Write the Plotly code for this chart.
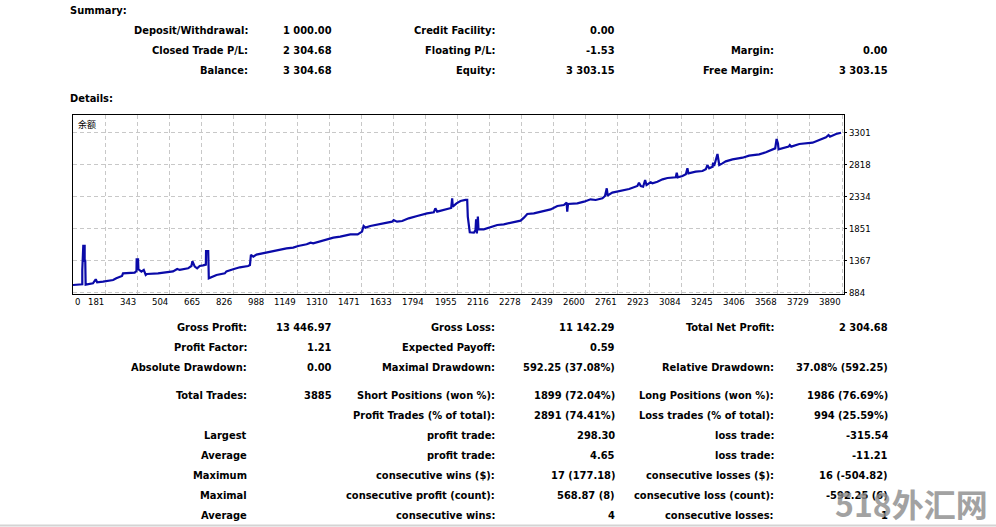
import plotly.graph_objects as go
import numpy as np

# ---------------- data ----------------
trade_no = [
    0, 47, 47, 52, 59, 59, 62, 64, 101, 115,
    122, 152, 203, 219, 248, 253, 270, 312, 321, 322,
    329, 331, 346, 358, 368, 375, 430, 473, 506, 527,
    540, 582, 599, 604, 616, 628, 641, 658, 672, 673,
    684, 687, 709, 726, 768, 776, 810, 844, 886, 895,
    900, 912, 928, 962, 979, 1013, 1047, 1080, 1114, 1139,
    1182, 1202, 1215, 1263, 1283, 1317, 1352, 1403, 1440, 1462,
    1470, 1479, 1504, 1555, 1614, 1622, 1639, 1665, 1698, 1741,
    1791, 1825, 1833, 1842, 1884, 1913, 1918, 1921, 1940, 1960,
    1985, 1994, 1997, 2007, 2028, 2036, 2039, 2043, 2048, 2051,
    2078, 2112, 2146, 2179, 2213, 2264, 2281, 2298, 2331, 2365,
    2416, 2450, 2483, 2497, 2500, 2504, 2551, 2585, 2618, 2644,
    2678, 2691, 2700, 2705, 2708, 2728, 2762, 2813, 2855, 2863,
    2872, 2884, 2894, 2901, 2922, 2931, 2956, 2982, 3007, 3049,
    3054, 3059, 3083, 3100, 3108, 3113, 3150, 3184, 3201, 3209,
    3218, 3235, 3238, 3243, 3260, 3269, 3285, 3302, 3336, 3387,
    3420, 3471, 3505, 3539, 3552, 3559, 3566, 3569, 3589, 3620,
    3626, 3633, 3674, 3707, 3741, 3775, 3809, 3822, 3829, 3860,
    3885,
]
balance = [
    1000, 1011, 1228, 1591, 1591, 1364, 1364, 1006, 1026, 1086,
    1041, 1051, 1076, 1102, 1137, 1177, 1177, 1187, 1213, 1389,
    1389, 1238, 1202, 1228, 1152, 1167, 1177, 1197, 1207, 1243,
    1228, 1253, 1288, 1359, 1278, 1253, 1288, 1298, 1308, 1515,
    1515, 1102, 1137, 1152, 1177, 1207, 1238, 1268, 1288, 1303,
    1455, 1429, 1460, 1480, 1500, 1515, 1530, 1555, 1566, 1591,
    1616, 1641, 1631, 1671, 1681, 1717, 1732, 1767, 1767, 1808,
    1893, 1868, 1893, 1924, 1959, 1984, 1959, 1969, 2009, 2045,
    2085, 2100, 2161, 2110, 2150, 2166, 2312, 2186, 2236, 2272,
    2287, 2287, 2035, 1798, 1792, 1833, 1994, 1782, 2035, 1843,
    1843, 1873, 1908, 1919, 1944, 1974, 2019, 2075, 2085, 2110,
    2145, 2196, 2211, 2246, 2110, 2226, 2236, 2261, 2297, 2287,
    2312, 2347, 2463, 2347, 2362, 2398, 2423, 2453, 2499, 2549,
    2499, 2488, 2589, 2514, 2554, 2539, 2564, 2599, 2620, 2630,
    2700, 2630, 2650, 2675, 2766, 2690, 2715, 2725, 2751, 2816,
    2766, 2791, 2852, 2801, 2983, 2816, 2841, 2872, 2902, 2927,
    2957, 2978, 3008, 3043, 3068, 3210, 3144, 3053, 3068, 3094,
    3119, 3094, 3134, 3144, 3154, 3194, 3235, 3270, 3245, 3285,
    3304,
]
assert len(trade_no) == len(balance)

x_tick_labels = ["0", "181", "343", "504", "665", "826", "988", "1149", "1310",
                 "1471", "1633", "1794", "1955", "2116", "2278", "2439", "2600",
                 "2761", "2923", "3084", "3245", "3406", "3568", "3729", "3890"]
y_tick_vals = [884, 1367, 1851, 2334, 2818, 3301]
y_tick_labels = ["884", "1367", "1851", "2334", "2818", "3301"]
series_name = "余额"

summary_labels_1 = ["Deposit/Withdrawal:", "Closed Trade P/L:", "Balance:"]
summary_values_1 = ["1 000.00", "2 304.68", "3 304.68"]
summary_labels_2 = ["Credit Facility:", "Floating P/L:", "Equity:"]
summary_values_2 = ["0.00", "-1.53", "3 303.15"]
summary_labels_3 = ["", "Margin:", "Free Margin:"]
summary_values_3 = ["", "0.00", "3 303.15"]

details_labels_1 = ["Gross Profit:", "Profit Factor:", "Absolute Drawdown:", "Total Trades:", "",
                    "Largest", "Average", "Maximum", "Maximal", "Average"]
details_values_1 = ["13 446.97", "1.21", "0.00", "3885", "", "", "", "", "", ""]
details_labels_2 = ["Gross Loss:", "Expected Payoff:", "Maximal Drawdown:", "Short Positions (won %):",
                    "Profit Trades (% of total):", "profit trade:", "profit trade:",
                    "consecutive wins ($):", "consecutive profit (count):", "consecutive wins:"]
details_values_2 = ["11 142.29", "0.59", "592.25 (37.08%)", "1899 (72.04%)", "2891 (74.41%)",
                    "298.30", "4.65", "17 (177.18)", "568.87 (8)", "4"]
details_labels_3 = ["Total Net Profit:", "", "Relative Drawdown:", "Long Positions (won %):",
                    "Loss trades (% of total):", "loss trade:", "loss trade:",
                    "consecutive losses ($):", "consecutive loss (count):", "consecutive losses:"]
details_values_3 = ["2 304.68", "", "37.08% (592.25)", "1986 (76.69%)", "994 (25.59%)",
                    "-315.54", "-11.21", "16 (-504.82)", "-592.25 (6)", "1"]

watermark = "518外汇网"

# ---------------- layout helpers ----------------
W, H = 996, 527
L, R, T, B = 73, 844, 115, 294  # plot area in pixels
X_MAX = 3900
Y_MIN, Y_MAX = 864, 3573

def pxx(x):
    return (x - L) / (R - L)

def pxy(y):
    return (B - y) / (B - T)

FONT = "'DejaVu Sans Condensed', 'DejaVu Sans', sans-serif"
x_tick_vals = list(np.linspace(0, 3890, len(x_tick_labels)))

fig = go.Figure()
fig.add_trace(go.Scatter(
    x=trade_no, y=balance, mode="lines",
    line=dict(color="#0a0aa8", width=2.2),
    hoverinfo="skip", showlegend=False,
))

annotations = []

def txt(text, x, y, anchor="right", bold=True, size=11):
    if not text:
        return
    annotations.append(dict(
        text=text, xref="paper", yref="paper", x=pxx(x), y=pxy(y),
        xanchor=anchor, yanchor="middle", showarrow=False,
        font=dict(family=FONT, size=size, color="#000000",
                  weight="bold" if bold else "normal"),
    ))

# headers
txt("Summary:", 68, 11, anchor="left")
txt("Details:", 68, 98, anchor="left")

summary_rows = [30, 50, 70]
cols_sum = [(summary_labels_1, 250), (summary_values_1, 334),
            (summary_labels_2, 497), (summary_values_2, 617),
            (summary_labels_3, 776), (summary_values_3, 890)]
for lst, xr in cols_sum:
    for t, yy in zip(lst, summary_rows):
        txt(t, xr, yy)

detail_rows = [327, 347, 367, 395, 415, 435, 455, 475, 495, 515]
cols_det = [(details_labels_1, 249), (details_values_1, 334),
            (details_labels_2, 497), (details_values_2, 617),
            (details_labels_3, 776), (details_values_3, 890)]
for lst, xr in cols_det:
    for t, yy in zip(lst, detail_rows):
        txt(t, xr, yy)

# x tick labels, right-aligned to grid lines (first one kept inside the frame)
for i, (v, lab) in enumerate(zip(x_tick_vals, x_tick_labels)):
    first = i == 0
    annotations.append(dict(
        text=lab, xref="x", yref="paper", x=v, y=pxy(301.5),
        xanchor="left" if first else "right", yanchor="middle",
        xshift=0 if first else 1, showarrow=False,
        font=dict(family=FONT, size=9.5, color="#000000"),
    ))

# series label inside the chart
annotations.append(dict(
    text=series_name, xref="paper", yref="paper", x=pxx(76), y=pxy(124),
    xanchor="left", yanchor="middle", showarrow=False,
    font=dict(family="Noto Sans CJK SC", size=9, color="#000000"),
))

# watermark
annotations.append(dict(
    text=watermark, xref="paper", yref="paper", x=pxx(990), y=pxy(503),
    xanchor="right", yanchor="middle", showarrow=False, opacity=0.8,
    font=dict(family="Noto Sans CJK SC", size=32, color="#8c8c8c", weight="bold"),
))

fig.update_layout(
    width=W, height=H, autosize=False,
    margin=dict(l=L, r=W - R, t=T, b=H - B, pad=0),
    paper_bgcolor="white", plot_bgcolor="white",
    showlegend=False,
    annotations=annotations,
    shapes=[dict(type="line", xref="paper", yref="paper",
                 x0=pxx(0), x1=pxx(W), y0=pxy(525.5), y1=pxy(525.5),
                 line=dict(color="#d4d4d4", width=2))],
    xaxis=dict(
        range=[0, X_MAX], tickvals=x_tick_vals, showticklabels=False,
        showgrid=True, gridcolor="#c8c8c8", gridwidth=1, griddash="4px,3px",
        showline=True, linecolor="#000000", linewidth=1, mirror=True,
        zeroline=False, ticks="",
    ),
    yaxis=dict(
        range=[Y_MIN, Y_MAX], side="right", tickvals=y_tick_vals, ticktext=y_tick_labels,
        tickfont=dict(family=FONT, size=9.5, color="#000000"),
        showgrid=True, gridcolor="#c8c8c8", gridwidth=1, griddash="4px,3px",
        showline=True, linecolor="#000000", linewidth=1, mirror=True,
        zeroline=False, ticks="outside", ticklen=2, tickcolor="#000000",
    ),
)

fig.write_html(
    "out.html",
    config={"displayModeBar": False},
    post_script="document.body.style.margin='0';document.body.style.overflow='hidden';",
)
